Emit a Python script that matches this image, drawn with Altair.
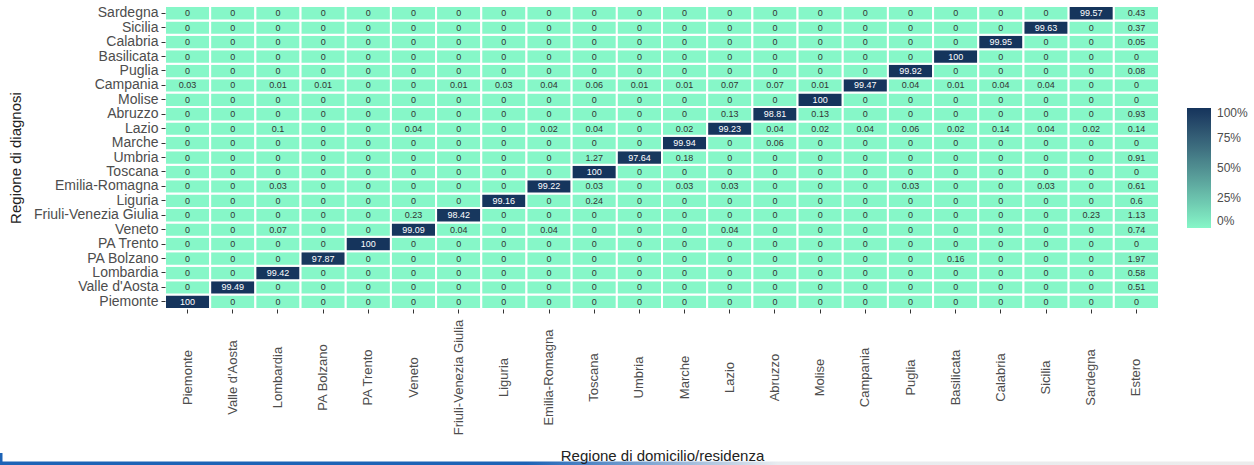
import altair as alt
import pandas as pd

# Regions of residence (columns) and of diagnosis (rows)
residenza = ["Piemonte", "Valle d'Aosta", "Lombardia", "PA Bolzano", "PA Trento",
             "Veneto", "Friuli-Venezia Giulia", "Liguria", "Emilia-Romagna", "Toscana",
             "Umbria", "Marche", "Lazio", "Abruzzo", "Molise", "Campania", "Puglia",
             "Basilicata", "Calabria", "Sicilia", "Sardegna", "Estero"]
diagnosi = residenza[:-1]

# Percentage of diagnoses in each region by region of residence (one list per row)
piemonte     = [100, 0, 0, 0, 0, 0, 0, 0, 0, 0, 0, 0, 0, 0, 0, 0, 0, 0, 0, 0, 0, 0]
valle_aosta  = [0, 99.49, 0, 0, 0, 0, 0, 0, 0, 0, 0, 0, 0, 0, 0, 0, 0, 0, 0, 0, 0, 0.51]
lombardia    = [0, 0, 99.42, 0, 0, 0, 0, 0, 0, 0, 0, 0, 0, 0, 0, 0, 0, 0, 0, 0, 0, 0.58]
pa_bolzano   = [0, 0, 0, 97.87, 0, 0, 0, 0, 0, 0, 0, 0, 0, 0, 0, 0, 0, 0.16, 0, 0, 0, 1.97]
pa_trento    = [0, 0, 0, 0, 100, 0, 0, 0, 0, 0, 0, 0, 0, 0, 0, 0, 0, 0, 0, 0, 0, 0]
veneto       = [0, 0, 0.07, 0, 0, 99.09, 0.04, 0, 0.04, 0, 0, 0, 0.04, 0, 0, 0, 0, 0, 0, 0, 0, 0.74]
friuli       = [0, 0, 0, 0, 0, 0.23, 98.42, 0, 0, 0, 0, 0, 0, 0, 0, 0, 0, 0, 0, 0, 0.23, 1.13]
liguria      = [0, 0, 0, 0, 0, 0, 0, 99.16, 0, 0.24, 0, 0, 0, 0, 0, 0, 0, 0, 0, 0, 0, 0.6]
emilia       = [0, 0, 0.03, 0, 0, 0, 0, 0, 99.22, 0.03, 0, 0.03, 0.03, 0, 0, 0, 0.03, 0, 0, 0.03, 0, 0.61]
toscana      = [0, 0, 0, 0, 0, 0, 0, 0, 0, 100, 0, 0, 0, 0, 0, 0, 0, 0, 0, 0, 0, 0]
umbria       = [0, 0, 0, 0, 0, 0, 0, 0, 0, 1.27, 97.64, 0.18, 0, 0, 0, 0, 0, 0, 0, 0, 0, 0.91]
marche       = [0, 0, 0, 0, 0, 0, 0, 0, 0, 0, 0, 99.94, 0, 0.06, 0, 0, 0, 0, 0, 0, 0, 0]
lazio        = [0, 0, 0.1, 0, 0, 0.04, 0, 0, 0.02, 0.04, 0, 0.02, 99.23, 0.04, 0.02, 0.04, 0.06, 0.02, 0.14, 0.04, 0.02, 0.14]
abruzzo      = [0, 0, 0, 0, 0, 0, 0, 0, 0, 0, 0, 0, 0.13, 98.81, 0.13, 0, 0, 0, 0, 0, 0, 0.93]
molise       = [0, 0, 0, 0, 0, 0, 0, 0, 0, 0, 0, 0, 0, 0, 100, 0, 0, 0, 0, 0, 0, 0]
campania     = [0.03, 0, 0.01, 0.01, 0, 0, 0.01, 0.03, 0.04, 0.06, 0.01, 0.01, 0.07, 0.07, 0.01, 99.47, 0.04, 0.01, 0.04, 0.04, 0, 0]
puglia       = [0, 0, 0, 0, 0, 0, 0, 0, 0, 0, 0, 0, 0, 0, 0, 0, 99.92, 0, 0, 0, 0, 0.08]
basilicata   = [0, 0, 0, 0, 0, 0, 0, 0, 0, 0, 0, 0, 0, 0, 0, 0, 0, 100, 0, 0, 0, 0]
calabria     = [0, 0, 0, 0, 0, 0, 0, 0, 0, 0, 0, 0, 0, 0, 0, 0, 0, 0, 99.95, 0, 0, 0.05]
sicilia      = [0, 0, 0, 0, 0, 0, 0, 0, 0, 0, 0, 0, 0, 0, 0, 0, 0, 0, 0, 99.63, 0, 0.37]
sardegna     = [0, 0, 0, 0, 0, 0, 0, 0, 0, 0, 0, 0, 0, 0, 0, 0, 0, 0, 0, 0, 99.57, 0.43]

rows = [piemonte, valle_aosta, lombardia, pa_bolzano, pa_trento, veneto, friuli,
        liguria, emilia, toscana, umbria, marche, lazio, abruzzo, molise, campania,
        puglia, basilicata, calabria, sicilia, sardegna]

records = []
for reg_d, vals in zip(diagnosi, rows):
    for reg_r, v in zip(residenza, vals):
        records.append({"diagnosi": reg_d, "residenza": reg_r, "pct": v, "label": f"{v:g}"})
df = pd.DataFrame(records)

FONT = "Liberation Sans"
LOW, HIGH = "#86F7C8", "#15345C"

x_enc = alt.X("residenza:N", sort=residenza,
              scale=alt.Scale(paddingInner=0, paddingOuter=0),
              axis=alt.Axis(title="Regione di domicilio/residenza", labelAngle=-90,
                            labelAlign="center", labelBaseline="middle",
                            labelPadding=64, titleY=139))
y_enc = alt.Y("diagnosi:N", sort=list(reversed(diagnosi)),
              scale=alt.Scale(paddingInner=0, paddingOuter=0),
              axis=alt.Axis(title="Regione di diagnosi", labelPadding=3,
                            titleX=-150, titleBaseline="middle"))

tiles = alt.Chart(df).mark_rect(stroke="white", strokeWidth=2).encode(
    x=x_enc,
    y=y_enc,
    color=alt.Color("pct:Q",
                    scale=alt.Scale(domain=[0, 100], range=[LOW, HIGH], interpolate="lab"),
                    legend=alt.Legend(title=None, orient="none", legendX=1022, legendY=102,
                                      gradientLength=120, gradientThickness=24,
                                      values=[0, 25, 50, 75, 100],
                                      labelExpr="datum.value + '%'",
                                      labelFontSize=12, labelColor="#4d4d4d",
                                      labelOffset=6, gradientStrokeWidth=0)),
)

texts = alt.Chart(df).mark_text(font=FONT, fontSize=9).encode(
    x=alt.X("residenza:N", sort=residenza),
    y=alt.Y("diagnosi:N", sort=list(reversed(diagnosi))),
    text="label:N",
    color=alt.condition("datum.pct > 50", alt.value("white"), alt.value("#333333")),
)

# Slide footer band
footer = alt.Chart(pd.DataFrame({"k": [0]})).mark_rect(
    color=alt.Gradient(gradient="linear", x1=0, x2=1, y1=0, y2=0,
                       stops=[alt.GradientStop(offset=0, color="#1d63b6"),
                              alt.GradientStop(offset=0.42, color="#1d63b6"),
                              alt.GradientStop(offset=0.62, color="#e8ecf0"),
                              alt.GradientStop(offset=1, color="#ececec")])
).encode(x=alt.value(-165), x2=alt.value(1089), y=alt.value(455.5), y2=alt.value(459.5))

footer_tick = alt.Chart(pd.DataFrame({"k": [0]})).mark_rect(color="#1d63b6").encode(
    x=alt.value(-165), x2=alt.value(-162.5), y=alt.value(447), y2=alt.value(459.5))

chart = alt.layer(tiles, texts, footer, footer_tick).properties(
    width=994, height=303,
    autosize=alt.AutoSizeParams(type="none"),
    padding={"left": 165, "top": 6, "right": 95, "bottom": 156},
    background="white",
).configure_view(stroke=None).configure_axis(
    domain=False, grid=False, tickColor="#333333", tickSize=4,
    labelFont=FONT, titleFont=FONT, labelColor="#4d4d4d", titleColor="#222222",
    titleFontWeight="normal", titleFontSize=15,
).configure_axisX(labelFontSize=13).configure_axisY(labelFontSize=14).configure_legend(
    labelFont=FONT)

chart.save("out.html", embed_options={"renderer": "svg", "actions": False})
